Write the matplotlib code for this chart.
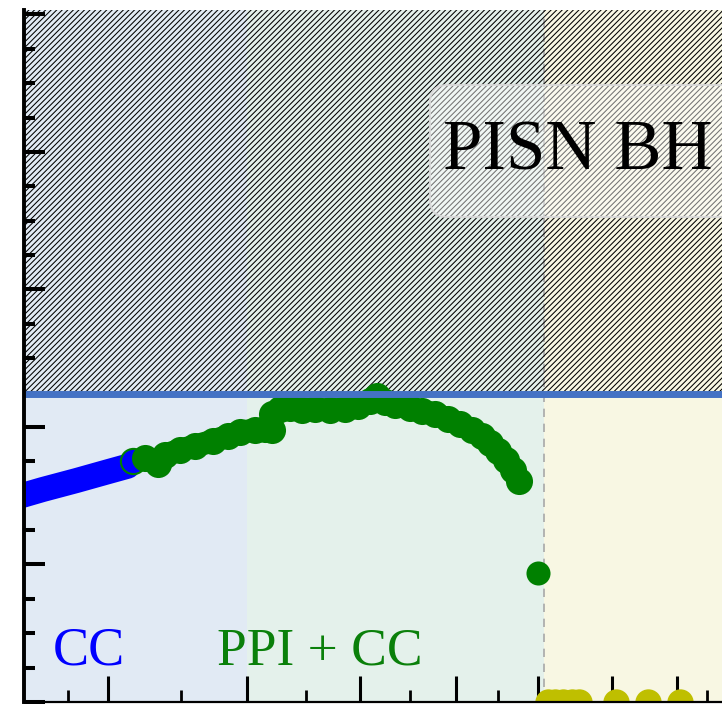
import matplotlib
matplotlib.use("Agg")
import matplotlib.pyplot as plt
from matplotlib.patches import FancyBboxPatch
from matplotlib.ticker import FixedLocator, NullFormatter

# Core-collapse branch (blue band): core mass vs. black-hole mass
cc_core = [17.0, 18.0, 19.0, 20.0, 20.65]
cc_bh = [29.4, 30.9, 32.2, 33.5, 34.3]

# Pulsational pair-instability + core-collapse branch
ppi_core = [20.82, 21.23, 21.68, 21.92, 22.46, 23.01, 23.68, 24.26, 24.74,
            25.34, 25.75, 26.04, 26.04, 26.38, 26.81, 27.33, 27.91, 28.59,
            29.29, 29.91, 30.50, 30.84, 31.24, 31.75, 32.53, 33.16, 33.86,
            34.58, 35.25, 35.94, 36.52, 37.00, 37.48, 37.96, 38.39, 38.77]
ppi_bh = [35.05, 35.49, 34.62, 35.93, 36.65, 37.24, 37.96, 38.69, 39.27,
          39.56, 39.71, 39.56, 41.89, 42.62, 42.76, 42.47, 42.62, 42.47,
          42.62, 43.05, 43.78, 44.51, 43.64, 43.20, 42.76, 42.33, 41.89,
          41.16, 40.44, 39.56, 38.69, 37.67, 36.51, 35.20, 33.75, 32.20]

# Last pulsating model right at the pair-instability edge
edge_core = [40.0]
edge_bh = [18.76]

# Pair-instability supernovae leave no remnant
pisn_core = [40.6, 41.1, 41.6, 42.2, 42.7, 45.3, 47.7, 50.2]
pisn_bh = [0, 0, 0, 0, 0, 0, 0, 0]

gap_floor = 44.8
cc_ppi_split = 25.0
pisn_edge = 40.36

x_major = [20, 25, 30, 35, 40, 45, 50]
x_minor = [18.75, 22.5, 27.5, 32.5, 37.5, 42.5, 47.5, 52.5]
y_major = [0, 20, 40, 60, 80, 100]
y_minor = list(range(0, 101, 5))

plt.rcParams['hatch.linewidth'] = 0.75
plt.rcParams['hatch.color'] = 'black'

W, H = 722, 704
fig = plt.figure(figsize=(W / 100, H / 100), dpi=100)
fig.patch.set_facecolor('white')
ax = fig.add_axes([24 / W, 2 / H, 706 / W, 692 / H])
ax.set_xscale('log')
ax.set_xlim(17.47, 54.45)
ax.set_ylim(0, 100.65)

# Regime backgrounds
ax.axvspan(10, cc_ppi_split, color='#e1eaf4', lw=0, zorder=0)
ax.axvspan(cc_ppi_split, pisn_edge, color='#e4f1eb', lw=0, zorder=0)
ax.axvspan(pisn_edge, 100, color='#f8f7e3', lw=0, zorder=0)
ax.axvline(pisn_edge, color='#a8a8a8', ls=(0, (5, 4)), lw=1.2, zorder=0.5)

# Mass gap
ax.axhspan(gap_floor, 110, facecolor='none', edgecolor='black',
           hatch='//////', lw=0, zorder=1)

# Data
ax.plot(cc_core, cc_bh, color='#0000ff', lw=18, solid_capstyle='round',
        zorder=3)
ax.scatter(ppi_core[:1], ppi_bh[:1], s=330, facecolor='#0000ff',
           edgecolor='#008000', linewidths=1.5, zorder=3.1)
ax.plot(ppi_core[1:], ppi_bh[1:], color='#008000', lw=16.5,
        solid_capstyle='round', solid_joinstyle='round', zorder=3.2)
ax.scatter(ppi_core[1:], ppi_bh[1:], s=380, color='#008000', linewidths=0,
           zorder=3.2)
ax.scatter(edge_core, edge_bh, s=300, color='#008000', linewidths=0, zorder=3.2)
ax.scatter(pisn_core, pisn_bh, s=360, color='#bfbf00', linewidths=0, zorder=3.2)

ax.axhline(gap_floor, color='#4472c4', lw=5, zorder=4)

# Labels
ax.text(0.041, 0.0535, 'CC', transform=ax.transAxes, fontsize=39,
        color='#0000ff', family='Liberation Serif', va='baseline', zorder=5)
ax.text(0.2734, 0.0535, 'PPI + CC', transform=ax.transAxes, fontsize=38.5,
        color='#0a800a', family='Liberation Serif', va='baseline', zorder=5)

box = FancyBboxPatch((0.575, 0.7009), 0.5, 0.1908,
                     boxstyle='round,pad=0,rounding_size=0.025',
                     transform=ax.transAxes, facecolor=(1, 1, 1, 0.45),
                     edgecolor=(0.85, 0.85, 0.85, 0.9), lw=1.5, zorder=4.5,
                     clip_on=False)
ax.add_patch(box)
ax.text(0.5935, 0.7688, 'PISN BH', transform=ax.transAxes,
        fontsize=51, color='black', family='Liberation Serif',
        va='baseline', zorder=5)

# Axes styling
for side in ('top', 'right'):
    ax.spines[side].set_visible(False)
ax.spines['left'].set_linewidth(2.8)
ax.spines['bottom'].set_linewidth(1.6)
ax.spines['left'].set_zorder(6)
ax.spines['bottom'].set_zorder(6)

ax.xaxis.set_major_locator(FixedLocator(x_major))
ax.xaxis.set_minor_locator(FixedLocator(x_minor))
ax.yaxis.set_major_locator(FixedLocator(y_major))
ax.yaxis.set_minor_locator(FixedLocator(y_minor))
for axis in (ax.xaxis, ax.yaxis):
    axis.set_major_formatter(NullFormatter())
    axis.set_minor_formatter(NullFormatter())

ax.tick_params(axis='x', which='major', direction='in', length=19, width=2.2)
ax.tick_params(axis='x', which='minor', direction='in', length=8.6, width=2.0)
ax.tick_params(axis='y', which='major', direction='in', length=15, width=2.9)
ax.tick_params(axis='y', which='minor', direction='in', length=8, width=2.9)

fig.savefig('out.png', dpi=100)
